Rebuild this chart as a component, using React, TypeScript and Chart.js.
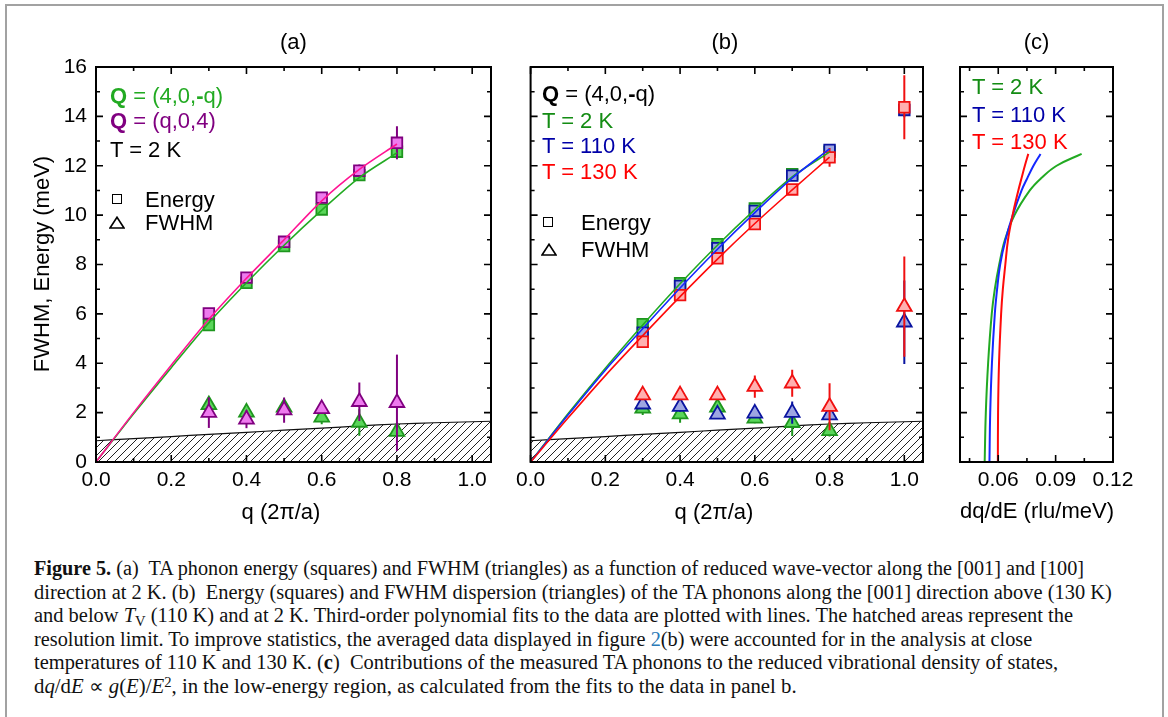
import React, { useEffect, useRef } from 'react';
import { Chart, registerables } from 'chart.js';

Chart.register(...registerables);

const FONT = "'Liberation Sans', Arial, Helvetica, sans-serif";
const SERIF = "'Liberation Serif', 'Times New Roman', serif";

// ---------------- axis ticks ----------------
const Q_TICKS = [0, 0.1, 0.2, 0.3, 0.4, 0.5, 0.6, 0.7, 0.8, 0.9, 1.0];
const Q_MAJOR = [0, 0.2, 0.4, 0.6, 0.8, 1.0];
const E_TICKS = [0, 1, 2, 3, 4, 5, 6, 7, 8, 9, 10, 11, 12, 13, 14, 15, 16];
const E_MAJOR = [0, 2, 4, 6, 8, 10, 12, 14, 16];
const D_TICKS = [0.045, 0.06, 0.075, 0.09, 0.105, 0.12];
const D_MAJOR = [0.06, 0.09, 0.12];

// ---------------- resolution limit (hatched) ----------------
const RES_Q = [0, 0.1, 0.2, 0.3, 0.4, 0.5, 0.6, 0.7, 0.8, 0.9, 1.0, 1.05];
const RES_E = [0.86, 0.95, 1.03, 1.12, 1.2, 1.29, 1.37, 1.46, 1.54, 1.59, 1.63, 1.65];

// ---------------- panel (a) ----------------
const Q_A = [0.3, 0.4, 0.5, 0.6, 0.7, 0.8];
const E_A_GREEN = [5.55, 7.26, 8.75, 10.23, 11.62, 12.57];
const E_A_GREEN_ERR = [0.1, 0.1, 0.1, 0.1, 0.15, 0.2];
const E_A_PINK = [6.02, 7.47, 8.92, 10.71, 11.8, 12.93];
const E_A_PINK_ERR = [0.1, 0.1, 0.1, 0.1, 0.25, 0.67];
const W_A_GREEN = [2.31, 2.01, 2.21, 1.81, 1.6, 1.23];
const W_A_GREEN_ERR = [0.2, 0.2, 0.2, 0.28, 0.54, 0.25];
const W_A_PINK = [2.0, 1.73, 2.1, 2.15, 2.44, 2.4];
const W_A_PINK_ERR = [0.62, 0.36, 0.51, 0.2, 0.78, 1.95];
const Q_FIT = [0, 0.1, 0.2, 0.3, 0.4, 0.5, 0.6, 0.7, 0.8];
const FIT_A_GREEN = [0, 1.95, 3.82, 5.64, 7.26, 8.78, 10.2, 11.52, 12.52];
const FIT_A_PINK = [0, 2.0, 3.92, 5.78, 7.44, 9.0, 10.58, 11.85, 12.88];

// ---------------- panel (b) ----------------
const Q_B_2K = [0.3, 0.4, 0.5, 0.6, 0.7, 0.8];
const Q_B_HT = [0.3, 0.4, 0.5, 0.6, 0.7, 0.8, 1.0];
const E_B_2K = [5.58, 7.24, 8.82, 10.27, 11.66, 12.57];
const E_B_2K_ERR = [0.1, 0.1, 0.1, 0.1, 0.1, 0.1];
const E_B_110K = [5.24, 7.13, 8.66, 10.17, 11.6, 12.64, 14.26];
const E_B_110K_ERR = [0.1, 0.1, 0.1, 0.1, 0.1, 0.1, 0.3];
const E_B_130K = [4.87, 6.76, 8.25, 9.64, 11.04, 12.34, 14.37];
const E_B_130K_ERR = [0.1, 0.1, 0.1, 0.1, 0.1, 0.38, 1.3];
const W_B_2K = [2.17, 1.94, 2.21, 1.77, 1.59, 1.26];
const W_B_2K_ERR = [0.27, 0.35, 0.2, 0.2, 0.54, 0.23];
const W_B_110K = [2.34, 2.24, 1.93, 1.97, 2.0, 1.9, 5.66];
const W_B_110K_ERR = [0.15, 0.2, 0.15, 0.15, 0.45, 0.15, 1.69];
const W_B_130K = [2.71, 2.71, 2.71, 3.05, 3.19, 2.24, 6.29];
const W_B_130K_ERR = [0.1, 0.1, 0.2, 0.45, 0.55, 0.95, 2.03];
const FIT_B_2K = [0, 1.95, 3.8, 5.55, 7.22, 8.78, 10.22, 11.55, 12.55];
const FIT_B_110K = [0, 1.9, 3.72, 5.4, 7.05, 8.62, 10.1, 11.5, 12.68];
const FIT_B_130K = [0, 1.78, 3.5, 5.12, 6.7, 8.22, 9.66, 11.02, 12.35];

// ---------------- panel (c) ----------------
const C_E = [0, 2, 4, 6, 7, 8, 9, 10, 11, 11.5, 12, 12.48];
const C_2K_X = [0.0529, 0.0535, 0.0547, 0.0566, 0.0582, 0.0605, 0.0635, 0.0685, 0.0765, 0.0825, 0.0905, 0.1036];
const C_110K_X = [0.0554, 0.0558, 0.0567, 0.0582, 0.0594, 0.061, 0.0638, 0.0676, 0.0722, 0.0752, 0.0784, 0.0821];
const C_130K_X = [0.0598, 0.0599, 0.0604, 0.0615, 0.0624, 0.0637, 0.0651, 0.0675, 0.0705, 0.0722, 0.0739, 0.0757];

// ---------------- colours ----------------
const GREEN_FILL = '#5ad65a';
const GREEN_EDGE = '#1e961e';
const GREEN_LINE = '#22aa22';
const PINK_FILL = '#ee7aee';
const PINK_EDGE = '#800080';
const PINK_LINE = '#ff1493';
const BLUE_FILL = '#9ea6e2';
const BLUE_EDGE = '#0a14a0';
const BLUE_LINE = '#1428ff';
const RED_FILL = '#ffb0b0';
const RED_EDGE = '#f01010';
const RED_LINE = '#ff0a0a';

const isMajor = (list: number[], v: number) => list.some((m) => Math.abs(m - v) < 1e-9);
const pts = (xs: number[], ys: number[]) => xs.map((x, i) => ({ x, y: ys[i] }));

function makeFramePlugin(xMajor: number[], yMajor: number[]) {
  return {
    id: 'frameTicks',
    afterDraw(chart: any) {
      const { ctx, chartArea: a } = chart;
      const xs = chart.scales.x;
      const ys = chart.scales.y;
      ctx.save();
      ctx.strokeStyle = '#000';
      ctx.lineWidth = 1.6;
      ctx.beginPath();
      for (const t of xs.ticks) {
        const px = xs.getPixelForValue(t.value);
        const L = isMajor(xMajor, t.value) ? 7 : 4;
        ctx.moveTo(px, a.bottom);
        ctx.lineTo(px, a.bottom - L);
        ctx.moveTo(px, a.top);
        ctx.lineTo(px, a.top + L);
      }
      for (const t of ys.ticks) {
        const py = ys.getPixelForValue(t.value);
        const L = isMajor(yMajor, t.value) ? 7 : 4;
        ctx.moveTo(a.left, py);
        ctx.lineTo(a.left + L, py);
        ctx.moveTo(a.right, py);
        ctx.lineTo(a.right - L, py);
      }
      ctx.stroke();
      ctx.lineWidth = 2;
      ctx.strokeRect(a.left, a.top, a.right - a.left, a.bottom - a.top);
      ctx.restore();
    },
  };
}

const errorBarPlugin = {
  id: 'errorBars',
  beforeDatasetDraw(chart: any, args: any) {
    const ds = chart.data.datasets[args.index];
    if (!ds.errors) return;
    const ys = chart.scales.y;
    const a = chart.chartArea;
    const ctx = chart.ctx;
    ctx.save();
    ctx.beginPath();
    ctx.rect(a.left, a.top, a.right - a.left, a.bottom - a.top);
    ctx.clip();
    ctx.strokeStyle = ds.errorColor;
    ctx.lineWidth = 2;
    ds.data.forEach((p: any, i: number) => {
      const e = ds.errors[i];
      const el = args.meta.data[i];
      if (!e || !el) return;
      ctx.beginPath();
      ctx.moveTo(el.x, ys.getPixelForValue(p.y - e));
      ctx.lineTo(el.x, ys.getPixelForValue(p.y + e));
      ctx.stroke();
    });
    ctx.restore();
  },
};

function axisX(min: number, max: number, ticks: number[], major: number[], digits: number) {
  return {
    type: 'linear',
    min,
    max,
    grid: { display: false, drawTicks: false },
    border: { display: false },
    afterBuildTicks: (s: any) => {
      s.ticks = ticks.map((v) => ({ value: v }));
    },
    afterFit: (s: any) => {
      s.height = 38;
    },
    ticks: {
      autoSkip: false,
      maxRotation: 0,
      minRotation: 0,
      padding: 6,
      color: '#000',
      font: { family: FONT, size: 21 },
      callback: (v: number) => (isMajor(major, v) ? Number(v).toFixed(digits) : ''),
    },
  };
}

function axisY(width: number, showLabels: boolean) {
  return {
    type: 'linear',
    min: 0,
    max: 16,
    grid: { display: false, drawTicks: false },
    border: { display: false },
    afterBuildTicks: (s: any) => {
      s.ticks = E_TICKS.map((v) => ({ value: v }));
    },
    afterFit: (s: any) => {
      s.width = width;
    },
    ticks: {
      display: showLabels,
      autoSkip: false,
      padding: 9,
      color: '#000',
      font: { family: FONT, size: 21 },
      callback: (v: number) => (isMajor(E_MAJOR, v) ? String(v) : ''),
    },
  };
}

function hatchPattern(canvas: HTMLCanvasElement) {
  const tile = document.createElement('canvas');
  tile.width = 8;
  tile.height = 8;
  const g = tile.getContext('2d')!;
  g.strokeStyle = '#222';
  g.lineWidth = 1;
  g.beginPath();
  g.moveTo(0, 8);
  g.lineTo(8, 0);
  g.moveTo(-1, 1);
  g.lineTo(1, -1);
  g.moveTo(7, 9);
  g.lineTo(9, 7);
  g.stroke();
  return canvas.getContext('2d')!.createPattern(tile, 'repeat')!;
}

function lineDs(data: any[], color: string, width = 1.6, order = 0, tension = 0.3) {
  return { data, showLine: true, borderColor: color, borderWidth: width, pointRadius: 0, tension, fill: false, order };
}

function markerDs(data: any[], style: string, fill: string, edge: string, errors: number[], errColor: string, order: number) {
  return {
    data,
    showLine: false,
    pointStyle: style,
    pointRadius: style === 'rect' ? 7.5 : 8.5,
    pointBackgroundColor: fill,
    pointBorderColor: edge,
    pointBorderWidth: 1.8,
    errors,
    errorColor: errColor,
    order,
  };
}

function hatchDs(canvas: HTMLCanvasElement) {
  return {
    data: pts(RES_Q, RES_E),
    showLine: true,
    fill: 'origin',
    backgroundColor: hatchPattern(canvas),
    borderColor: '#111',
    borderWidth: 1.2,
    pointRadius: 0,
    tension: 0.3,
    order: 20,
  };
}

function baseOptions(padRight: number, x: any, y: any) {
  return {
    responsive: false,
    animation: false,
    events: [],
    layout: { padding: { top: 67, right: padRight, left: 0, bottom: 0 } },
    plugins: { legend: { display: false }, tooltip: { enabled: false }, title: { display: false } },
    scales: { x, y },
  };
}

function makeA(c: HTMLCanvasElement) {
  return new Chart(c, {
    type: 'scatter',
    data: {
      datasets: [
        hatchDs(c),
        markerDs(pts(Q_A, W_A_GREEN), 'triangle', GREEN_FILL, GREEN_EDGE, W_A_GREEN_ERR, GREEN_EDGE, 4),
        markerDs(pts(Q_A, W_A_PINK), 'triangle', PINK_FILL, PINK_EDGE, W_A_PINK_ERR, PINK_EDGE, 3),
        markerDs(pts(Q_A, E_A_GREEN), 'rect', GREEN_FILL, GREEN_EDGE, E_A_GREEN_ERR, GREEN_EDGE, 4),
        markerDs(pts(Q_A, E_A_PINK), 'rect', PINK_FILL, PINK_EDGE, E_A_PINK_ERR, PINK_EDGE, 3),
        lineDs(pts(Q_FIT, FIT_A_GREEN), GREEN_LINE, 1.6, 1),
        lineDs(pts(Q_FIT, FIT_A_PINK), PINK_LINE, 1.6, 0),
      ] as any,
    },
    options: baseOptions(24, axisX(0, 1.05, Q_TICKS, Q_MAJOR, 1), axisY(96, true)) as any,
    plugins: [errorBarPlugin, makeFramePlugin(Q_MAJOR, E_MAJOR)] as any,
  });
}

function makeB(c: HTMLCanvasElement) {
  return new Chart(c, {
    type: 'scatter',
    data: {
      datasets: [
        hatchDs(c),
        markerDs(pts(Q_B_2K, W_B_2K), 'triangle', GREEN_FILL, GREEN_EDGE, W_B_2K_ERR, GREEN_EDGE, 6),
        markerDs(pts(Q_B_HT, W_B_110K), 'triangle', BLUE_FILL, BLUE_EDGE, W_B_110K_ERR, BLUE_EDGE, 5),
        markerDs(pts(Q_B_HT, W_B_130K), 'triangle', RED_FILL, RED_EDGE, W_B_130K_ERR, RED_EDGE, 4),
        markerDs(pts(Q_B_2K, E_B_2K), 'rect', GREEN_FILL, GREEN_EDGE, E_B_2K_ERR, GREEN_EDGE, 6),
        markerDs(pts(Q_B_HT, E_B_110K), 'rect', BLUE_FILL, BLUE_EDGE, E_B_110K_ERR, BLUE_EDGE, 5),
        markerDs(pts(Q_B_HT, E_B_130K), 'rect', RED_FILL, RED_EDGE, E_B_130K_ERR, RED_EDGE, 4),
        lineDs(pts(Q_FIT, FIT_B_2K), GREEN_LINE, 1.6, 2),
        lineDs(pts(Q_FIT, FIT_B_110K), BLUE_LINE, 1.6, 1),
        lineDs(pts(Q_FIT, FIT_B_130K), RED_LINE, 1.6, 0),
      ] as any,
    },
    options: baseOptions(17, axisX(0, 1.05, Q_TICKS, Q_MAJOR, 1), axisY(17, false)) as any,
    plugins: [errorBarPlugin, makeFramePlugin(Q_MAJOR, E_MAJOR)] as any,
  });
}

function makeC(c: HTMLCanvasElement) {
  return new Chart(c, {
    type: 'scatter',
    data: {
      datasets: [
        lineDs(pts(C_2K_X, C_E), GREEN_LINE, 2, 2, 0.4),
        lineDs(pts(C_110K_X, C_E), BLUE_LINE, 2, 1, 0.4),
        lineDs(pts(C_130K_X, C_E), RED_LINE, 2, 0, 0.4),
      ] as any,
    },
    options: baseOptions(27, axisX(0.04, 0.12, D_TICKS, D_MAJOR, 2), axisY(20, false)) as any,
    plugins: [makeFramePlugin(D_MAJOR, E_MAJOR)] as any,
  });
}

function ChartCanvas(props: { left: number; width: number; make: (c: HTMLCanvasElement) => Chart }) {
  const ref = useRef<HTMLCanvasElement>(null);
  useEffect(() => {
    const chart = props.make(ref.current!);
    return () => chart.destroy();
  }, []);
  return (
    <canvas
      ref={ref}
      width={props.width}
      height={500}
      style={{ position: 'absolute', left: props.left, top: 0, width: props.width, height: 500 }}
    />
  );
}

const txt = (left: number, top: number, color = '#000', extra: any = {}): React.CSSProperties => ({
  position: 'absolute',
  left,
  top,
  color,
  fontFamily: FONT,
  fontSize: 22,
  lineHeight: '22px',
  whiteSpace: 'nowrap',
  ...extra,
});

const centered = (cx: number, top: number): React.CSSProperties =>
  txt(cx - 150, top, '#000', { width: 300, textAlign: 'center' });

function Square({ left, top }: { left: number; top: number }) {
  return (
    <div
      style={{ position: 'absolute', left, top, width: 10, height: 10, boxSizing: 'border-box', border: '1.6px solid #000' }}
    />
  );
}

function Tri({ left, top }: { left: number; top: number }) {
  return (
    <svg style={{ position: 'absolute', left, top }} width={16} height={13}>
      <polygon points="8,1.2 15,12 1,12" fill="none" stroke="#000" strokeWidth={1.6} />
    </svg>
  );
}

const CAPTION_WIDTHS = [1050, 1078, 1039, 998, 1024, 763];
const CAPTION_TOPS = [557, 581, 604, 628, 651, 675];

export default function App() {
  const capRefs = useRef<(HTMLSpanElement | null)[]>([]);
  useEffect(() => {
    capRefs.current.forEach((el, i) => {
      if (!el) return;
      const w = el.offsetWidth;
      if (w > 0) el.style.transform = `scaleX(${CAPTION_WIDTHS[i] / w})`;
    });
  }, []);

  const capLines: React.ReactNode[] = [
    <>
      <b>Figure 5.</b> (a)&nbsp; TA phonon energy (squares) and FWHM (triangles) as a function of reduced wave-vector along the [001] and [100]
    </>,
    <>direction at 2 K. (b)&nbsp; Energy (squares) and FWHM dispersion (triangles) of the TA phonons along the [001] direction above (130 K)</>,
    <>
      and below <i>T</i>
      <span style={{ fontSize: '0.72em', verticalAlign: '-0.25em', lineHeight: 0 }}>V</span> (110 K) and at 2 K. Third-order polynomial fits to
      the data are plotted with lines. The hatched areas represent the
    </>,
    <>
      resolution limit. To improve statistics, the averaged data displayed in figure <span style={{ color: '#2a7ab8' }}>2</span>(b) were
      accounted for in the analysis at close
    </>,
    <>
      temperatures of 110 K and 130 K. (<b>c</b>)&nbsp; Contributions of the measured TA phonons to the reduced vibrational density of states,
    </>,
    <>
      d<i>q</i>/d<i>E</i> ∝ <i>g</i>(<i>E</i>)/<i>E</i>
      <span style={{ fontSize: '0.7em', verticalAlign: '0.45em', lineHeight: 0 }}>2</span>, in the low-energy region, as calculated from the fits
      to the data in panel b.
    </>,
  ];

  return (
    <div style={{ position: 'absolute', left: 0, top: 0, width: 1168, height: 717, overflow: 'hidden', background: '#fff' }}>
      <div
        style={{
          position: 'absolute',
          left: 5,
          top: 4,
          width: 1159,
          height: 800,
          boxSizing: 'border-box',
          border: '2px solid #a2a2a2',
        }}
      />
      <ChartCanvas left={0} width={515} make={makeA} />
      <ChartCanvas left={510} width={430} make={makeB} />
      <ChartCanvas left={940} width={200} make={makeC} />

      {/* panel titles */}
      <div style={centered(293.5, 30.5)}>(a)</div>
      <div style={centered(725, 30.5)}>(b)</div>
      <div style={centered(1036.5, 30.5)}>(c)</div>

      {/* axis titles */}
      <div style={centered(281, 501)}>q (2π/a)</div>
      <div style={centered(714, 501)}>q (2π/a)</div>
      <div style={centered(1037, 500)}>dq/dE (rlu/meV)</div>
      <div style={{ ...centered(42, 253), transform: 'rotate(-90deg)', transformOrigin: '150px 11px', left: 42 - 150, top: 264 - 11 }}>
        FWHM, Energy (meV)
      </div>

      {/* legend (a) */}
      <div style={txt(110, 84.5, '#22aa22')}>
        <b>Q</b> = (4,0,<b>-</b>q)
      </div>
      <div style={txt(110, 110, '#800080')}>
        <b>Q</b> = (q,0,4)
      </div>
      <div style={txt(110, 139)}>T = 2 K</div>
      <Square left={112} top={194} />
      <div style={txt(145, 189)}>Energy</div>
      <Tri left={108.5} top={215.5} />
      <div style={txt(145, 212.2)}>FWHM</div>

      {/* legend (b) */}
      <div style={txt(542, 83.2)}>
        <b>Q</b> = (4,0,<b>-</b>q)
      </div>
      <div style={txt(542, 109.9, '#138c13')}>T = 2 K</div>
      <div style={txt(542, 135.2, '#0000a8')}>T = 110 K</div>
      <div style={txt(542, 160.5, '#ff0000')}>T = 130 K</div>
      <Square left={543} top={216.5} />
      <div style={txt(581, 211.8)}>Energy</div>
      <Tri left={540.5} top={243} />
      <div style={txt(581, 238.5)}>FWHM</div>

      {/* legend (c) */}
      <div style={txt(972, 75.6, '#138c13')}>T = 2 K</div>
      <div style={txt(972, 103.6, '#0000a8')}>T = 110 K</div>
      <div style={txt(972, 130.6, '#ff0000')}>T = 130 K</div>

      {/* caption */}
      {capLines.map((node, i) => (
        <span
          key={i}
          ref={(el) => {
            capRefs.current[i] = el;
          }}
          style={{
            position: 'absolute',
            left: 34,
            top: CAPTION_TOPS[i],
            display: 'inline-block',
            whiteSpace: 'nowrap',
            fontFamily: SERIF,
            fontSize: 20,
            lineHeight: '23px',
            color: '#111',
            transformOrigin: '0 0',
          }}
        >
          {node}
        </span>
      ))}
    </div>
  );
}
